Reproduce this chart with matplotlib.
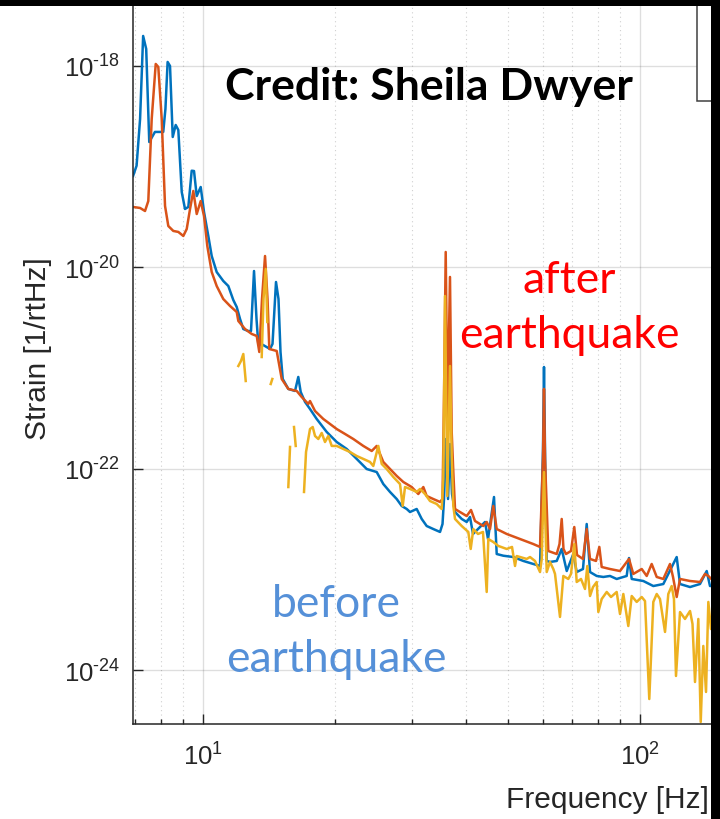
import numpy as np
import matplotlib
matplotlib.use("Agg")
import matplotlib.pyplot as plt
from matplotlib.patches import Rectangle
from matplotlib.ticker import FixedLocator, NullLocator, NullFormatter

plt.rcParams['font.family'] = ['Liberation Sans', 'DejaVu Sans']
plt.rcParams['mathtext.fontset'] = 'custom'
plt.rcParams['mathtext.rm'] = 'Liberation Sans'
plt.rcParams['mathtext.it'] = 'Liberation Sans:italic'
plt.rcParams['mathtext.bf'] = 'Liberation Sans:bold'

# ---------------- data (log10 of frequency in Hz, log10 of strain in 1/rtHz) ----------------
before_log_f = [0.840, 0.848, 0.856, 0.863, 0.870, 0.877, 0.890, 0.909, 0.914, 0.919, 0.9245,
                0.9307, 0.9375, 0.9435, 0.9513, 0.9588, 0.9664, 0.9741, 0.9794, 0.9856, 0.9947,
                1.0023, 1.0121, 1.0199, 1.0313, 1.0464, 1.0579, 1.0693, 1.0771, 1.0847, 1.0922,
                1.1036, 1.1098, 1.1167, 1.1224, 1.1265, 1.1373, 1.1533, 1.1590, 1.1670, 1.1727,
                1.1773, 1.1824, 1.1952, 1.2105, 1.2180, 1.2235, 1.2334, 1.2448, 1.2601, 1.2830,
                1.3059, 1.3288, 1.3517, 1.3745, 1.3974, 1.4125, 1.4279, 1.4432, 1.4546, 1.4661,
                1.4736, 1.4889, 1.5004, 1.5118, 1.5269, 1.5423, 1.5480, 1.5514, 1.5560, 1.5606,
                1.5651, 1.5697, 1.5766, 1.5919, 1.6033, 1.6109, 1.6178, 1.6292, 1.6452, 1.6521,
                1.6658, 1.6720, 1.6871, 1.7100, 1.7329, 1.7557, 1.7711, 1.7779, 1.7802, 1.7825,
                1.7864, 1.7939, 1.8093, 1.8207, 1.8322, 1.8473, 1.8550, 1.8694, 1.8779, 1.8855,
                1.9008, 1.9159, 1.9312, 1.9465, 1.9694, 1.9747, 1.9809, 2.0074, 2.0303, 2.0532,
                2.0838, 2.0914, 2.1143, 2.1371, 2.1525, 2.1600, 2.1700]
before_log_strain = [-19.092, -18.990, -18.526, -17.702, -17.831, -18.755, -18.655, -18.655, -18.427,
                     -17.960, -18.000, -18.705, -18.586, -18.636, -19.251, -19.420, -19.400, -19.040,
                     -19.043, -19.291, -19.202, -19.450, -19.688, -19.887, -20.046, -20.135, -20.185,
                     -20.324, -20.393, -20.512, -20.612, -20.632, -20.632, -20.036, -20.512, -20.761,
                     -20.770, -20.810, -20.760, -20.145, -20.314, -20.840, -21.108, -21.207, -21.227,
                     -21.088, -21.237, -21.336, -21.406, -21.505, -21.634, -21.734, -21.803, -21.902,
                     -22.002, -22.032, -22.151, -22.230, -22.300, -22.369, -22.399, -22.429, -22.399,
                     -22.498, -22.568, -22.598, -22.627, -22.548, -22.300, -21.704, -22.300, -21.754,
                     -22.250, -22.429, -22.498, -22.528, -22.478, -22.647, -22.598, -22.528, -22.697,
                     -22.280, -22.846, -22.863, -22.876, -22.915, -22.945, -22.965, -21.803, -20.989,
                     -21.803, -22.915, -22.925, -22.915, -22.796, -23.015, -22.846, -23.025, -22.995,
                     -22.548, -23.025, -23.064, -23.074, -23.064, -23.094, -23.064, -22.886, -23.094,
                     -23.114, -23.164, -23.144, -22.876, -23.144, -23.174, -23.144, -23.015, -23.164,
                     -23.160]

after_log_f = [0.840, 0.856, 0.8673, 0.8748, 0.8826, 0.8918, 0.8977, 0.9055, 0.9131, 0.9206,
               0.9320, 0.9435, 0.9549, 0.9627, 0.9703, 0.9778, 0.9856, 0.9947, 1.0023, 1.0098,
               1.0199, 1.0313, 1.0464, 1.0618, 1.0771, 1.0808, 1.0961, 1.1114, 1.1229, 1.1288,
               1.1350, 1.1419, 1.1476, 1.1517, 1.1686, 1.1801, 1.1952, 1.2144, 1.2258, 1.2409,
               1.2448, 1.2563, 1.2752, 1.2906, 1.3059, 1.3249, 1.3439, 1.3668, 1.3860, 1.3974,
               1.4125, 1.4279, 1.4432, 1.4583, 1.4775, 1.4926, 1.5041, 1.5118, 1.5269, 1.5423,
               1.5480, 1.5514, 1.5553, 1.5594, 1.5651, 1.5690, 1.5727, 1.5766, 1.5880, 1.6033,
               1.6132, 1.6223, 1.6413, 1.6491, 1.6567, 1.6642, 1.6720, 1.6949, 1.7253, 1.7557,
               1.7711, 1.7779, 1.7802, 1.7825, 1.7900, 1.8093, 1.8157, 1.8207, 1.8248, 1.8305,
               1.8420, 1.8495, 1.8557, 1.8694, 1.8779, 1.8855, 1.8992, 1.9068, 1.9122, 1.9312,
               1.9541, 1.9747, 1.9845, 2.0038, 2.0152, 2.0266, 2.0381, 2.0532, 2.0685, 2.0754,
               2.0838, 2.0914, 2.1143, 2.1371, 2.1486, 2.1562, 2.1700]
after_log_strain = [-19.400, -19.410, -19.440, -19.341, -18.526, -17.980, -18.010, -18.526, -19.390,
                    -19.589, -19.638, -19.648, -19.688, -19.619, -19.420, -19.241, -19.470, -19.341,
                    -19.490, -19.787, -20.046, -20.185, -20.314, -20.383, -20.443, -20.532, -20.612,
                    -20.661, -20.681, -20.840, -20.314, -19.887, -20.314, -20.810, -20.830, -21.108,
                    -21.207, -21.227, -21.287, -21.356, -21.327, -21.426, -21.505, -21.555, -21.605,
                    -21.654, -21.704, -21.773, -21.823, -21.773, -21.932, -22.002, -22.071, -22.131,
                    -22.181, -22.250, -22.181, -22.270, -22.300, -22.329, -22.300, -21.307, -19.847,
                    -21.505, -20.095, -21.634, -22.032, -22.399, -22.429, -22.469, -22.409, -22.518,
                    -22.568, -22.528, -22.598, -22.369, -22.598, -22.647, -22.697, -22.747, -22.776,
                    -21.902, -21.207, -21.902, -22.816, -22.846, -22.747, -22.498, -22.796, -22.846,
                    -22.816, -22.578, -22.856, -22.895, -22.598, -22.895, -22.915, -22.776, -22.975,
                    -22.995, -23.015, -22.895, -23.044, -22.995, -23.064, -22.945, -23.074, -23.094,
                    -22.945, -23.074, -23.273, -23.094, -23.114, -23.124, -23.044, -23.064, -23.124]

nan = np.nan
calib_log_f = [1.0808, 1.0869, 1.0922, 1.0977, nan,
               1.1343, 1.1384, 1.1435, 1.1471, nan,
               1.1549, 1.1586, nan,
               1.1952, 1.1991, nan,
               1.2082, 1.2121, nan,
               1.2311, 1.2357, 1.2448, 1.2510, 1.2563, 1.2638, 1.2716, 1.2791, 1.2867, 1.2945,
               1.3059, 1.3210, 1.3363, 1.3517, 1.3668, 1.3821, 1.3896, 1.4011, 1.4089, 1.4203,
               1.4354, 1.4507, 1.4569, 1.4622, 1.4736, 1.4889, 1.4965, 1.5079, 1.5194, 1.5346,
               1.5461, 1.5498, 1.5537, 1.5590, 1.5651, 1.5690, 1.5727, 1.5766, 1.5919, 1.6070,
               1.6125, 1.6185, 1.6292, 1.6406, 1.6491, 1.6528, 1.6642, 1.6757, 1.6949, 1.7070,
               1.7139, 1.7177, 1.7406, 1.7482, 1.7596, 1.7711, 1.7750, 1.7802, 1.7864, 1.7939,
               1.8015, 1.8054, 1.8168, 1.8244, 1.8358, 1.8420, 1.8495, 1.8550, 1.8649, 1.8740,
               1.8793, 1.8855, 1.8923, 1.9008, 1.9045, 1.9122, 1.9237, 1.9335, 1.9465, 1.9541,
               1.9617, 1.9731, 1.9809, 1.9923, 2.0038, 2.0113, 2.0211, 2.0303, 2.0381, 2.0456,
               2.0571, 2.0646, 2.0724, 2.0776, 2.0822, 2.0914, 2.1028, 2.1143, 2.1200, 2.1257,
               2.1333, 2.1388, 2.1447, 2.1509, 2.1562, 2.1623, 2.1700]
calib_log_strain = [-20.979, -20.929, -20.860, -21.128, nan,
                    -20.890, -20.314, -20.016, -20.542, nan,
                    -21.158, -21.108, nan,
                    -22.181, -21.783, nan,
                    -21.585, -21.773, nan,
                    -22.230, -21.833, -21.605, -21.585, -21.674, -21.704, -21.644, -21.734, -21.674,
                    -21.773, -21.773, -21.803, -21.833, -21.873, -21.902, -21.932, -21.972, -21.773,
                    -21.952, -22.002, -22.081, -22.151, -22.369, -22.181, -22.200, -22.230, -22.200,
                    -22.250, -22.320, -22.349, -22.399, -22.101, -20.284, -22.270, -20.979, -21.873,
                    -22.369, -22.498, -22.568, -22.627, -22.796, -22.598, -22.647, -22.627, -23.223,
                    -22.697, -22.727, -22.766, -22.796, -22.776, -22.965, -22.866, -22.895, -22.876,
                    -22.915, -23.025, -22.895, -22.032, -23.025, -22.925, -22.995, -23.044, -23.471,
                    -23.064, -23.094, -23.044, -22.747, -23.124, -23.094, -23.193, -22.965, -23.263,
                    -23.174, -23.124, -23.422, -23.293, -23.223, -23.273, -23.223, -23.442, -23.243,
                    -23.561, -23.263, -23.322, -23.273, -23.313, -24.286, -23.322, -23.243, -23.293,
                    -23.620, -23.243, -23.164, -23.293, -24.057, -23.422, -23.491, -23.412, -23.541,
                    -24.117, -23.491, -24.514, -23.759, -24.216, -23.322, -23.591, -23.500]

y_ticks = [1e-24, 1e-22, 1e-20, 1e-18]
y_tick_labels = ['$\\mathregular{10^{\u201024}}$', '$\\mathregular{10^{\u201022}}$',
                 '$\\mathregular{10^{\u201020}}$', '$\\mathregular{10^{\u201018}}$']
x_ticks = [10, 100]
x_tick_labels = ['$\\mathregular{10^{1}}$', '$\\mathregular{10^{2}}$']
x_minor_ticks = [7, 8, 9, 20, 30, 40, 50, 60, 70, 80, 90]
x_limits = (10 ** 0.8398, 10 ** 2.1829)
y_limits = (10 ** -24.534, 10 ** -17.335)

colors = ['#0072BD', '#D95319', '#EDB120']
ink = '#262626'

# ---------------- figure ----------------
W, H = 720, 820
fig = plt.figure(figsize=(W / 100, H / 100), dpi=100)
fig.patch.set_facecolor('white')
ax = fig.add_axes([133 / W, (H - 725) / H, (W - 133) / W, 725 / H])

series = [(before_log_f, before_log_strain), (after_log_f, after_log_strain),
          (calib_log_f, calib_log_strain)]
for (lf, ls), c in zip(series, colors):
    ax.plot(10 ** np.asarray(lf, dtype=float), 10 ** np.asarray(ls, dtype=float),
            color=c, lw=1.8, solid_joinstyle='round')

ax.set_xscale('log')
ax.set_yscale('log')
ax.set_xlim(*x_limits)
ax.set_ylim(*y_limits)

ax.yaxis.set_major_locator(FixedLocator(y_ticks))
ax.set_yticklabels(y_tick_labels)
ax.yaxis.set_minor_locator(NullLocator())
ax.xaxis.set_major_locator(FixedLocator(x_ticks))
ax.set_xticklabels(x_tick_labels)
ax.xaxis.set_minor_locator(FixedLocator(x_minor_ticks))
ax.xaxis.set_minor_formatter(NullFormatter())

ax.tick_params(axis='both', which='major', direction='in', length=7, width=1.0,
               color=ink, labelcolor=ink, labelsize=18.5)
ax.tick_params(axis='x', which='major', pad=13)
ax.tick_params(axis='y', which='major', pad=9)
ax.tick_params(axis='x', which='minor', direction='in', length=3.8, width=1.0, color=ink)
ax.tick_params(top=False, right=False, which='both')

for s in ax.spines.values():
    s.set_color(ink)
    s.set_linewidth(1.1)

ax.grid(True, which='major', color=ink, alpha=0.15, lw=1.0)
ax.grid(True, which='minor', axis='x', color=ink, alpha=0.22, lw=0.8, ls=(0, (1, 3)))
ax.set_axisbelow(True)

ax.set_xlabel('Frequency [Hz]', fontsize=21.5, color=ink, ha='right')
ax.xaxis.set_label_coords((709 - 133) / (W - 133), (725 - 786) / 725)
ax.set_ylabel('Strain [1/rtHz]', fontsize=21.5, color=ink, va='center')
ax.yaxis.set_label_coords((38 - 133) / (W - 133), (725 - 349) / 725)

# annotations
def px(x, y):
    return x / W, 1 - y / H

ann_font = ['Lato', 'DejaVu Sans']
fig.text(*px(225, 100), 'Credit: Sheila Dwyer', fontsize=32, fontweight='bold',
         family=ann_font, color='black', ha='left', va='baseline')
fig.text(*px(569, 293), 'after', fontsize=32, family=ann_font, color='#FF0000',
         ha='center', va='baseline')
fig.text(*px(569, 348), 'earthquake', fontsize=32, family=ann_font, color='#FF0000',
         ha='center', va='baseline')
fig.text(*px(336, 617), 'before', fontsize=32, family=ann_font, color='#5590D8',
         ha='center', va='baseline')
fig.text(*px(336, 672), 'earthquake', fontsize=32, family=ann_font, color='#5590D8',
         ha='center', va='baseline')

# legend box (mostly cropped) and black borders of the cropped screenshot
fig.add_artist(Rectangle((697 / W, 1 - 102 / H), 40 / W, 100 / H, transform=fig.transFigure,
                         facecolor='white', edgecolor='#404040', lw=1.1, zorder=5))
fig.add_artist(Rectangle((0, 1 - 7 / H), 1, 7 / H, transform=fig.transFigure,
                         facecolor='black', edgecolor='none', zorder=10))
fig.add_artist(Rectangle((711 / W, 0), 9 / W, 1, transform=fig.transFigure,
                         facecolor='black', edgecolor='none', zorder=10))

fig.savefig('out.png', dpi=100, facecolor='white')
